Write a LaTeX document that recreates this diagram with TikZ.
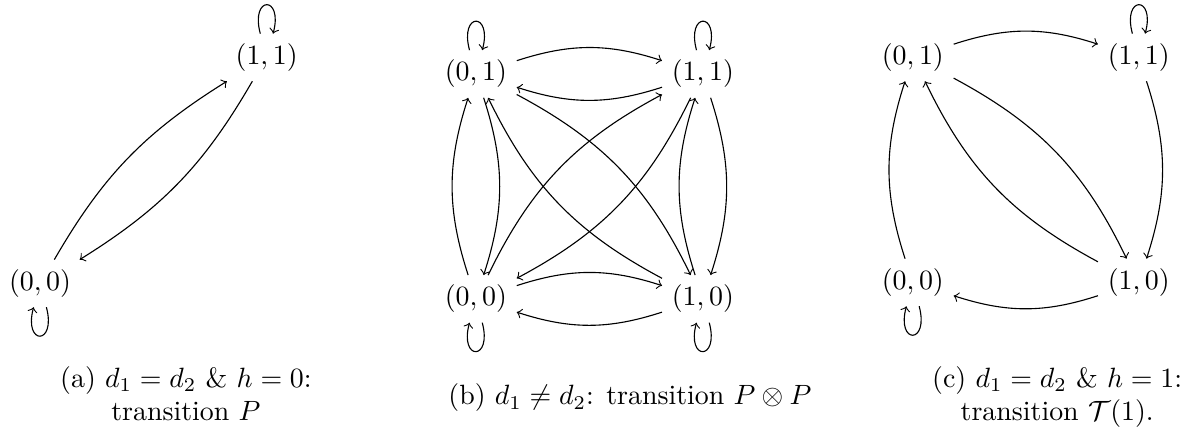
\documentclass[tikz,border=0pt]{standalone}
\begin{document}
\begin{tikzpicture}[>=to,
  trans/.style={->,bend left=18},
  selfloop/.style={->},
  capt/.style={align=center,inner sep=0pt}]
\useasboundingbox (0,0) rectangle (14.893,5.404);
% (a) d1 = d2, h = 0
\node (a00) at (0.504,1.833) {$(0,0)$};
\node (a11) at (3.360,4.680) {$(1,1)$};
\draw[trans,bend left=14] (a00) to (a11);
\draw[trans,bend left=14] (a11) to (a00);
\draw[selfloop] (a11) to[loop above] (a11);
\draw[selfloop] (a00) to[loop below] (a00);
\node[capt,anchor=north] (capa) at (2.343,0.796)
  {(a) $d_1 = d_2$ \& $h = 0$:\\ transition $P$};
% (b) d1 != d2
\node (b01) at (5.996,4.472) {$(0,1)$};
\node (b11) at (8.856,4.472) {$(1,1)$};
\node (b00) at (5.996,1.638) {$(0,0)$};
\node (b10) at (8.856,1.638) {$(1,0)$};
\foreach \u/\v in {b01/b11,b11/b01,b00/b10,b10/b00,
                   b00/b01,b01/b00,b10/b11,b11/b10,
                   b00/b11,b11/b00,b01/b10,b10/b01}
  \draw[trans] (\u) to (\v);
\draw[selfloop] (b01) to[loop above] (b01);
\draw[selfloop] (b11) to[loop above] (b11);
\draw[selfloop] (b00) to[loop below] (b00);
\draw[selfloop] (b10) to[loop below] (b10);
\node[capt,anchor=base west] (capb) at (5.643,0.302)
  {(b) $d_1 \neq d_2$: transition $P \otimes P$};
% (c) d1 = d2, h = 1
\node (c01) at (11.501,4.680) {$(0,1)$};
\node (c11) at (14.348,4.680) {$(1,1)$};
\node (c00) at (11.501,1.845) {$(0,0)$};
\node (c10) at (14.348,1.845) {$(1,0)$};
\foreach \u/\v in {c01/c11,c11/c10,c10/c00,c00/c01,c01/c10,c10/c01}
  \draw[trans] (\u) to (\v);
\draw[selfloop] (c11) to[loop above] (c11);
\draw[selfloop] (c00) to[loop below] (c00);
\node[capt,anchor=north] (capc) at (13.320,0.796)
  {(c) $d_1 = d_2$ \& $h = 1$:\\ transition $\mathcal{T}(1)$.};
\end{tikzpicture}
\end{document}
